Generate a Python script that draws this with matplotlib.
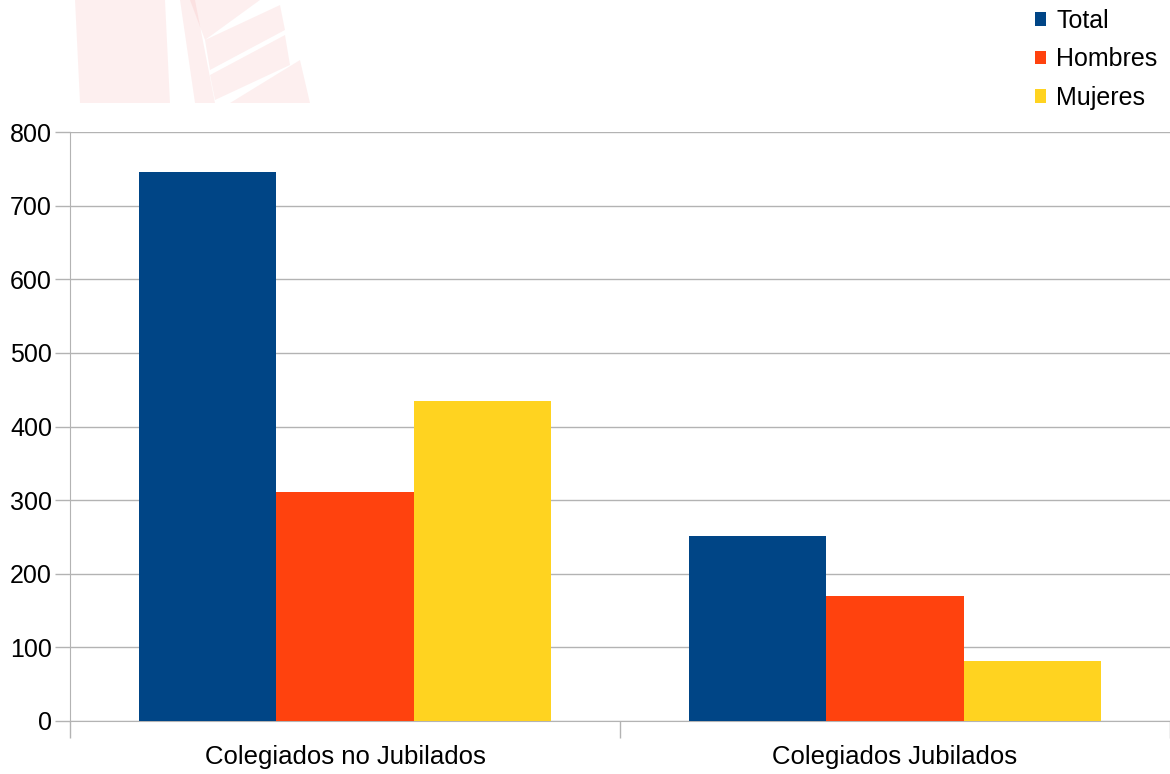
import matplotlib
matplotlib.use("Agg")
import matplotlib.pyplot as plt
from matplotlib.patches import Polygon, Patch
import numpy as np

categories = ["Colegiados no Jubilados", "Colegiados Jubilados"]
series_names = ["Total", "Hombres", "Mujeres"]
total = [746, 251]
hombres = [311, 170]
mujeres = [434, 81]
yticks = [0, 100, 200, 300, 400, 500, 600, 700, 800]
colors = ["#004586", "#ff420e", "#ffd320"]

plt.rcParams['font.family'] = ['Liberation Sans', 'DejaVu Sans']

W, H = 1170, 774
fig = plt.figure(figsize=(W / 100, H / 100), dpi=100)
ax = fig.add_axes([70 / W, 1 - 721 / H, 1100 / W, (721 - 132) / H])

# faded watermark in top-left
wm = [
    [(75, 0), (165, 0), (170, 103), (80, 103)],
    [(180, 0), (195, 0), (215, 103), (195, 103)],
    [(190, 0), (260, 0), (205, 40)],
    [(205, 40), (280, 5), (285, 30), (210, 70)],
    [(210, 75), (285, 35), (290, 65), (215, 100)],
    [(230, 103), (300, 60), (310, 103)],
]
for poly in wm:
    pts = [(x / W, 1 - y / H) for x, y in poly]
    fig.patches.append(Polygon(pts, closed=True, transform=fig.transFigure,
                               facecolor="#f08080", alpha=0.12, edgecolor="none", zorder=0))

x = np.arange(len(categories))
bw = 0.25
for i, (vals, name) in enumerate(zip([total, hombres, mujeres], series_names)):
    ax.bar(x + (i - 1) * bw, vals, width=bw, color=colors[i], label=name, zorder=3)

ax.set_xlim(-0.5, len(categories) - 0.5)
ax.set_ylim(0, 800)
ax.set_yticks(yticks)
ax.set_yticklabels([str(v) for v in yticks], fontsize=18)
ax.yaxis.grid(True, color="#b3b3b3", linewidth=1, zorder=0)
ax.set_axisbelow(True)

ax.set_xticks(x)
ax.set_xticklabels(categories, fontsize=18.5)
ax.tick_params(axis="x", length=0, pad=17)
ax.set_xticks([-0.5, 0.5, 1.5], minor=True)
ax.tick_params(axis="x", which="minor", length=12, color="#b3b3b3", width=1)
ax.tick_params(axis="y", length=11, color="#b3b3b3", width=1, pad=2)

for s in ["top", "right"]:
    ax.spines[s].set_visible(False)
ax.spines["left"].set_color("#b3b3b3")
ax.spines["bottom"].set_color("#b3b3b3")

handles = [Patch(facecolor=c, label=n) for c, n in zip(colors, series_names)]
fig.legend(handles=handles, loc="upper left", bbox_to_anchor=(1035 / W, 1 - 9 / H),
           frameon=False, fontsize=18, handlelength=0.45, handleheight=0.45,
           handletextpad=0.4, labelspacing=0.58, borderaxespad=0, borderpad=0)

fig.savefig("out.png", dpi=100)
